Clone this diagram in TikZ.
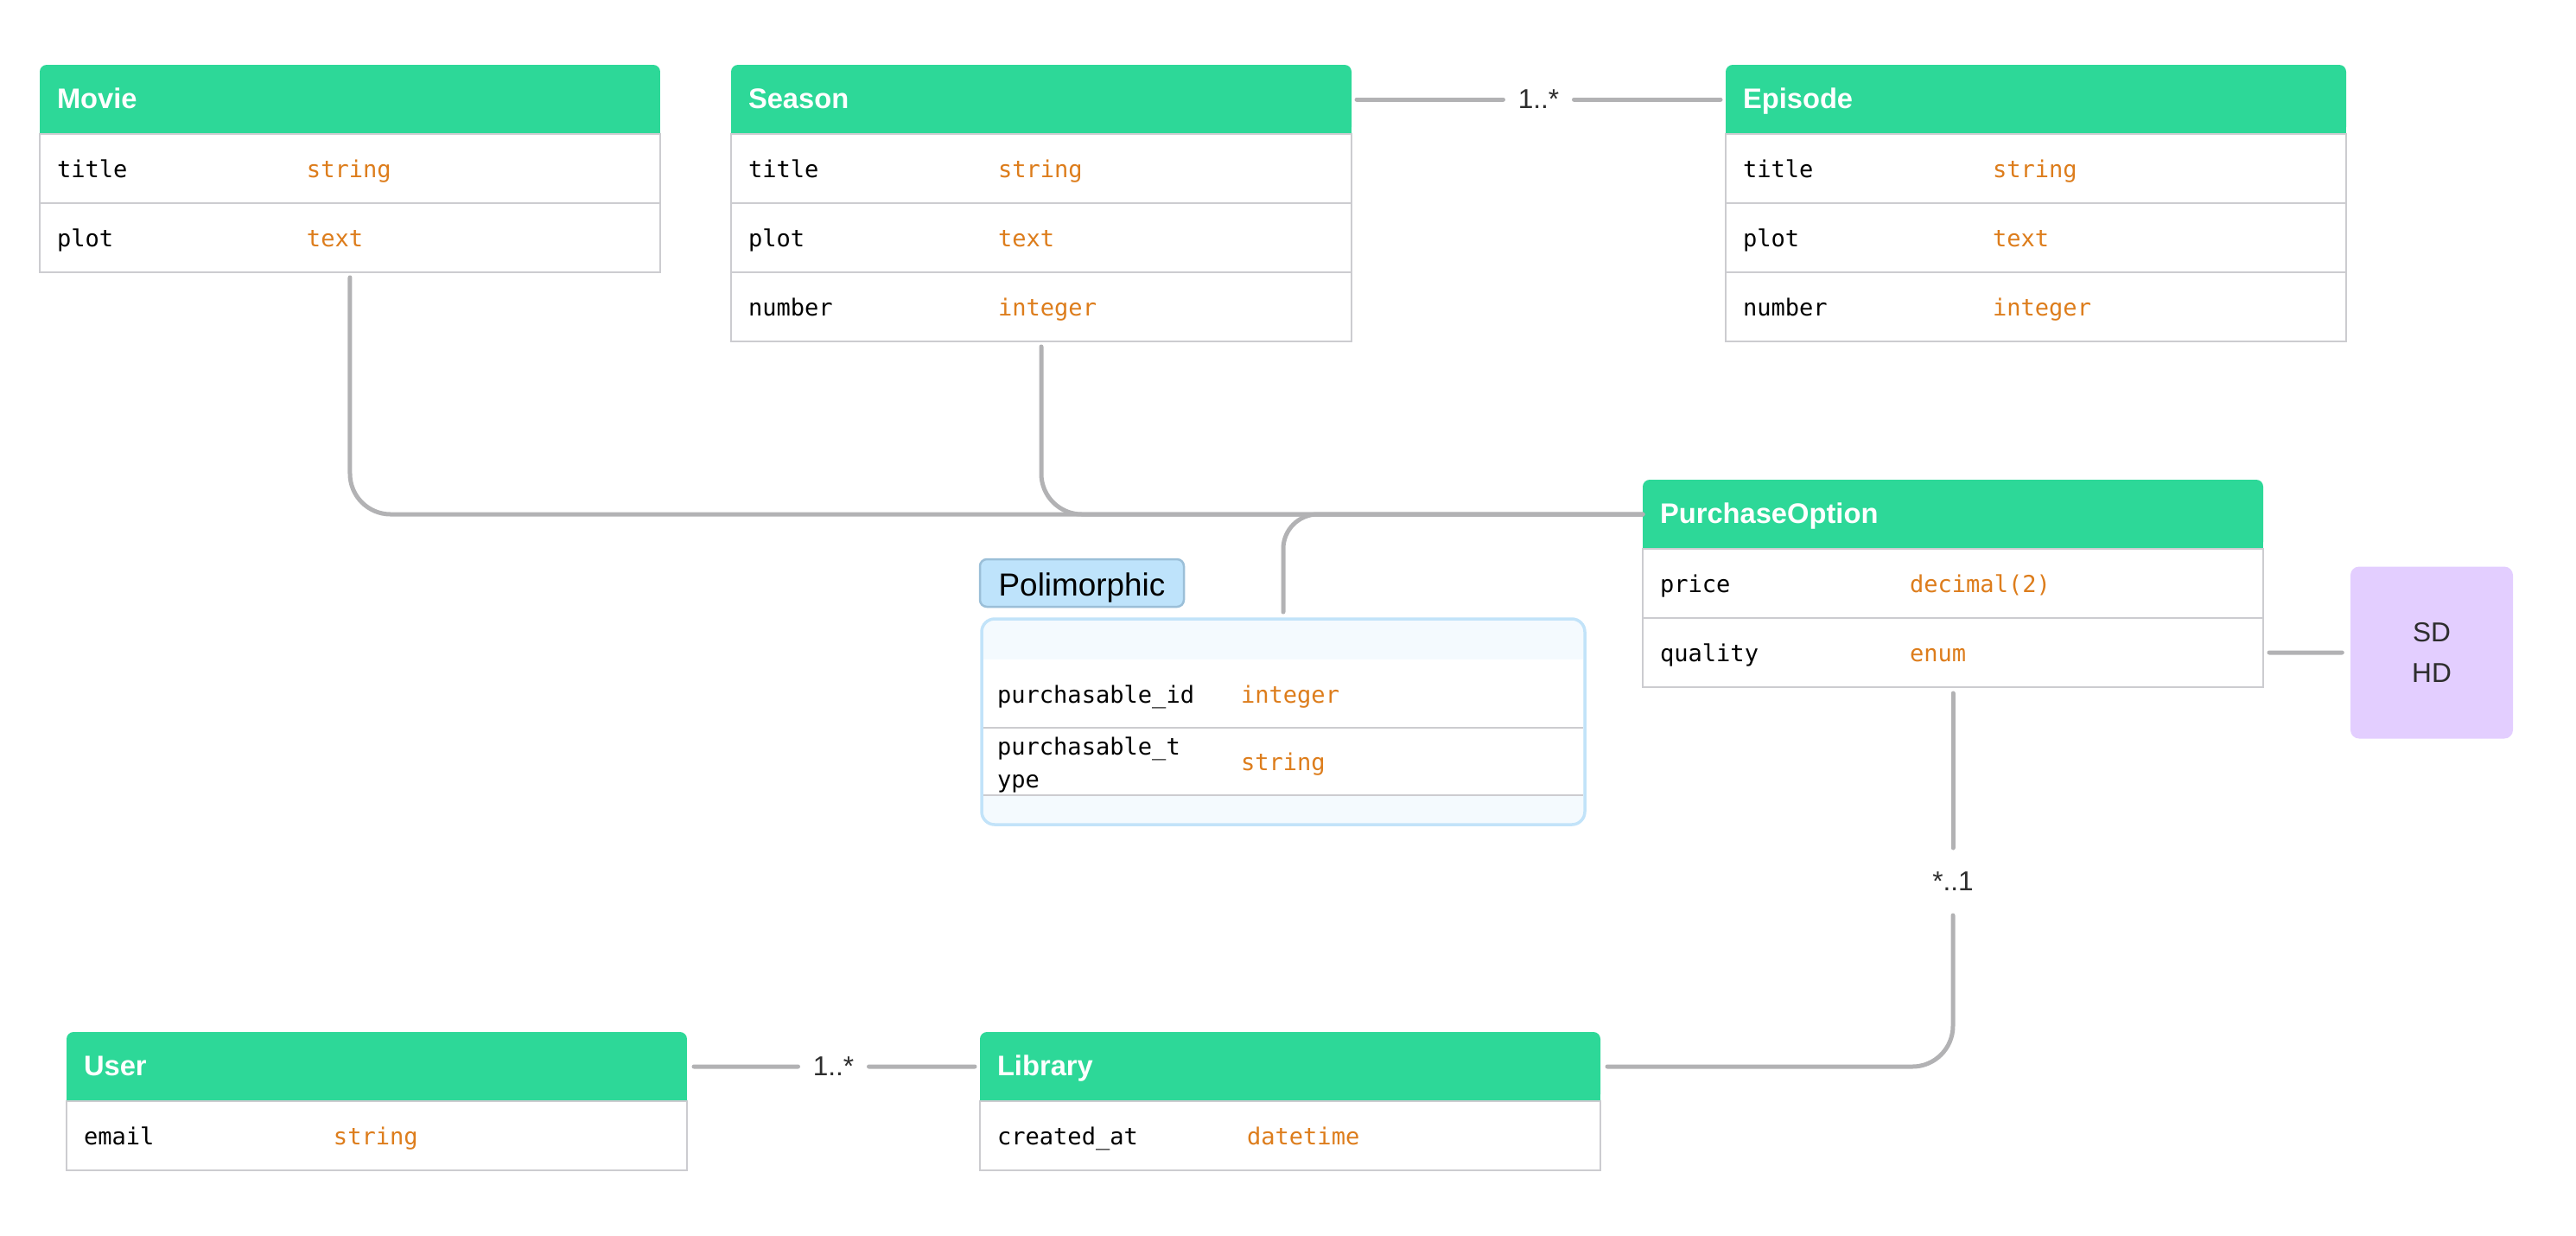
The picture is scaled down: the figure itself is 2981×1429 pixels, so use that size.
\documentclass[tikz,border=0pt]{standalone}
\usepackage{fontspec}
\setmainfont{Liberation Sans}
\setmonofont{DejaVu Sans Mono}
\usetikzlibrary{positioning, calc, backgrounds}
\definecolor{headgreen}{RGB}{45,216,152}
\definecolor{typeorange}{RGB}{221,125,28}
\definecolor{rowgray}{RGB}{204,204,208}
\definecolor{conngray}{RGB}{178,178,180}
\definecolor{multtext}{RGB}{45,45,45}
\definecolor{polyedge}{RGB}{194,227,249}
\definecolor{polyfill}{RGB}{244,250,254}
\definecolor{tagfill}{RGB}{190,227,251}
\definecolor{tagedge}{RGB}{155,191,216}
\definecolor{enumfill}{RGB}{227,206,255}
\newcommand{\fieldpair}[3][28.9mm]{\makebox[#1][l]{#2}\textcolor{typeorange}{#3}}
\tikzset{
    entityhead/.style={rectangle, rounded corners=0.8mm, fill=headgreen, text=white, font=\fontsize{9.3}{11}\selectfont\bfseries, minimum width=71.8mm, minimum height=8mm, text width=67.8mm, inner xsep=2mm, inner ysep=0pt, outer sep=0pt, align=left, text height=2.7mm, text depth=0.6mm},
    fieldrow/.style={rectangle, draw=rowgray, line width=0.2mm, fill=white, minimum width=71.8mm, minimum height=8mm, text width=67.8mm, inner xsep=2mm, inner ysep=0pt, outer sep=0pt, align=left, font=\fontsize{7.7}{10.8}\selectfont\ttfamily, text height=2.7mm, text depth=0.55mm},
    polyrow/.style={fieldrow, draw=none, minimum width=69.4mm, text width=66.2mm, inner xsep=1.6mm, minimum height=7.85mm},
    rowline/.style={draw=rowgray, line width=0.2mm},
    conn/.style={draw=conngray, line width=0.5mm, line cap=round, rounded corners=4.7mm},
    mult/.style={inner sep=0pt, outer sep=0pt, minimum width=8.2mm, minimum height=7.8mm, text=multtext, font=\fontsize{9}{11}\selectfont},
}
\begin{document}
\begin{tikzpicture}[x=0.1mm, y=-0.1mm,
  polybox/.style={rectangle, rounded corners=1.5mm, draw=polyedge, line width=0.35mm, fill=polyfill, minimum width=69.8mm, minimum height=23.8mm, inner sep=0pt, outer sep=0pt},
  polytag/.style={rectangle, rounded corners=0.8mm, draw=tagedge, line width=0.25mm, fill=tagfill, minimum width=23.6mm, minimum height=5.5mm, inner sep=0pt, outer sep=0pt, font=\fontsize{10.5}{12}\selectfont, text height=3.7mm, text depth=0.78mm},
  enumbox/.style={rectangle, rounded corners=1mm, fill=enumfill, minimum width=18.8mm, minimum height=19.9mm, align=center, text=multtext, font=\fontsize{9}{13.6}\selectfont}
]
\useasboundingbox (0,0) rectangle (2981,1429);

% Movie
\node[entityhead, anchor=north west] (movie) at (46,75) {Movie};
\node[fieldrow, below=0pt of movie] (movie-title) {\fieldpair{title}{string}};
\node[fieldrow, below=0pt of movie-title] (movie-plot) {\fieldpair{plot}{text}};

% Season
\node[entityhead, anchor=north west] (season) at (846,75) {Season};
\node[fieldrow, below=0pt of season] (season-title) {\fieldpair{title}{string}};
\node[fieldrow, below=0pt of season-title] (season-plot) {\fieldpair{plot}{text}};
\node[fieldrow, below=0pt of season-plot] (season-number) {\fieldpair{number}{integer}};

% Episode
\node[entityhead, anchor=north west] (episode) at (1997,75) {Episode};
\node[fieldrow, below=0pt of episode] (episode-title) {\fieldpair{title}{string}};
\node[fieldrow, below=0pt of episode-title] (episode-plot) {\fieldpair{plot}{text}};
\node[fieldrow, below=0pt of episode-plot] (episode-number) {\fieldpair{number}{integer}};

% PurchaseOption
\node[entityhead, anchor=north west] (po) at (1901,555) {PurchaseOption};
\node[fieldrow, below=0pt of po] (po-price) {\fieldpair{price}{decimal(2)}};
\node[fieldrow, below=0pt of po-price] (po-quality) {\fieldpair{quality}{enum}};
\node[enumbox] (quality-enum) at (2814,755) {SD\\HD};

% Polimorphic
\node[polybox] (poly) at (1485,835) {};
\node[polyrow, below=4.7mm of poly.north] (poly-id) {\fieldpair[28.2mm]{purchasable\_id}{integer}};
\node[polyrow, below=0pt of poly-id] (poly-type) {\fieldpair[28.2mm]{\parbox[c]{25mm}{\raggedright purchasable\_t\\ype}}{string}};
\draw[rowline] (poly-type.north west) -- (poly-type.north east);
\draw[rowline] (poly-type.south west) -- (poly-type.south east);
\node[polytag, above right=1.4mm and -0.2mm of poly.north west] (poly-tag) {Polimorphic};

% User and Library
\node[entityhead, anchor=north west] (user) at (77,1194) {User};
\node[fieldrow, below=0pt of user] (user-email) {\fieldpair{email}{string}};
\node[entityhead, anchor=north west] (lib) at (1134,1194) {Library};
\node[fieldrow, below=0pt of lib] (lib-created) {\fieldpair{created\_at}{datetime}};

% square off the header bottoms
\begin{scope}[on background layer]
\foreach \e in {movie,season,episode,po,user,lib}
  \fill[headgreen] (\e.west) rectangle (\e.south east);
\end{scope}

% Multiplicities
\node[mult] (ep-mult) at ($(season.east)!0.5!(episode.west)$) {1..*};
\node[mult] (lib-mult) at ($(user.east)!0.5!(lib.west)$) {1..*};
\node[mult, below=18.6mm of po-quality] (po-mult) {*..1};

% Connections
\draw[conn] ([yshift=-0.6mm]movie-plot.south) |- (po.west);
\draw[conn] ([yshift=-0.6mm]season-number.south) |- (po.west);
\draw[conn, rounded corners=4mm] ([yshift=0.8mm]poly.north) |- (po.west);
\draw[conn] ([xshift=0.6mm]season.east) -- (ep-mult.west);
\draw[conn] (ep-mult.east) -- ([xshift=-0.6mm]episode.west);
\draw[conn] ([xshift=0.8mm]user.east) -- (lib-mult.west);
\draw[conn] (lib-mult.east) -- ([xshift=-0.6mm]lib.west);
\draw[conn] ([yshift=-0.7mm]po-quality.south) -- (po-mult.north);
\draw[conn] (po-mult.south) |- ([xshift=0.8mm]lib.east);
\draw[conn] ([xshift=0.7mm]po-quality.east) -- ([xshift=-0.9mm]quality-enum.west);
\end{tikzpicture}
\end{document}
